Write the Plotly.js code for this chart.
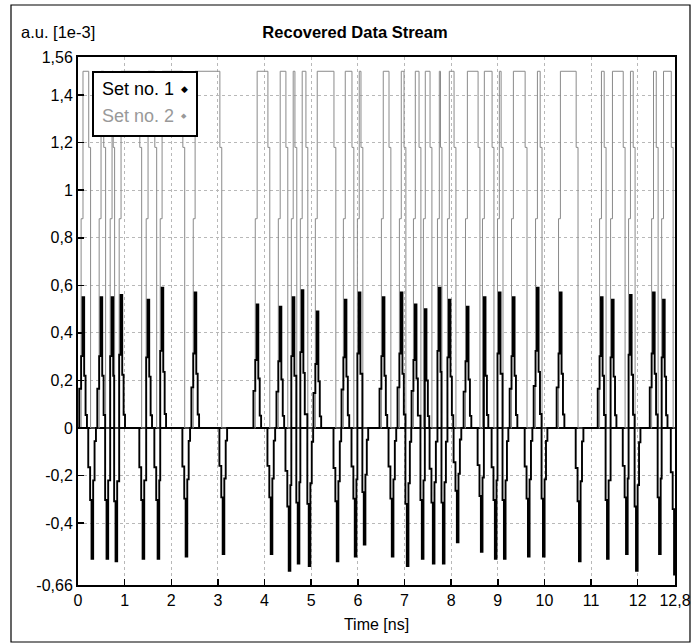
<!DOCTYPE html>
<html>
<head>
<meta charset="utf-8">
<script src="https://cdn.plot.ly/plotly-3.0.1.min.js"></script>
<style>
  html, body { margin: 0; padding: 0; background: #fff; }
  #chart { width: 694px; height: 643px; }
</style>
</head>
<body>
<div id="chart"></div>
<script>
// ---- data (time in ns, amplitude in a.u. x1e-3) ----
const pulseStart = [0.107, 0.494, 0.730, 0.923, 1.502, 1.803, 2.511, 3.841, 4.335, 4.614, 4.807, 5.129, 5.730, 6.030, 6.545, 6.931, 7.232, 7.446, 7.747, 7.961, 8.348, 8.712, 9.034, 9.335, 9.850, 10.343, 11.223, 11.459, 11.845, 12.339, 12.554];
const pulseEnd   = [0.300, 0.622, 0.815, 1.395, 1.717, 2.318, 3.112, 4.142, 4.528, 4.721, 4.957, 5.558, 5.944, 6.137, 6.738, 7.060, 7.382, 7.618, 7.833, 8.133, 8.648, 8.948, 9.142, 9.657, 9.979, 10.751, 11.352, 11.760, 11.974, 12.468, 12.790];
const risePeak   = [0.55, 0.55, 0.55, 0.56, 0.54, 0.59, 0.57, 0.52, 0.51, 0.55, 0.58, 0.49, 0.54, 0.57, 0.55, 0.57, 0.52, 0.50, 0.59, 0.54, 0.51, 0.55, 0.57, 0.55, 0.59, 0.57, 0.55, 0.54, 0.56, 0.57, 0.54];
const fallPeak   = [-0.55, -0.55, -0.56, -0.55, -0.55, -0.54, -0.53, -0.53, -0.60, -0.57, -0.58, -0.56, -0.54, -0.49, -0.54, -0.58, -0.55, -0.57, -0.57, -0.48, -0.52, -0.55, -0.55, -0.54, -0.54, -0.56, -0.55, -0.53, -0.60, -0.53, -0.62];
const highLevel  = 1.50;   // Set no. 2 top level
const stepRise   = 0.88;   // intermediate stair level on rising edges
const stepFall   = 1.18;   // intermediate stair level on falling edges
const lowLevel   = 0.0;

const xTickVals = [0,1,2,3,4,5,6,7,8,9,10,11,12,12.8];
const xTickText = ["0","1","2","3","4","5","6","7","8","9","10","11","12","12,8"];
const yTickVals = [-0.66,-0.4,-0.2,0,0.2,0.4,0.6,0.8,1,1.2,1.4,1.56];
const yTickText = ["-0,66","-0,4","-0,2","0","0,2","0,4","0,6","0,8","1","1,2","1,4","1,56"];

// stair-shape of each black edge response (style of the simulated stream)
const OFF = [-0.08, -0.04, -0.01, 0.025, 0.055, 0.085];
const FR  = [0.3, 0.55, 1.0, 0.4, 0.1, 0.0];

// ---- Set no. 2 (gray data stream) ----
const gx = [0], gy = [lowLevel];
for (let i = 0; i < pulseStart.length; i++) {
  const r = pulseStart[i], f = pulseEnd[i];
  const x2 = Math.max(f - 0.07, r + 0.025);
  const x3 = Math.max(f - 0.03, x2 + 0.02);
  gx.push(r - 0.04, r, x2, x3);
  gy.push(stepRise, highLevel, stepFall, lowLevel);
}
gx.push(12.8); gy.push(lowLevel);

// ---- Set no. 1 (black edge signal) ----
const edges = [];
for (let i = 0; i < pulseStart.length; i++) {
  edges.push({t: pulseStart[i], p: risePeak[i]});
  edges.push({t: pulseEnd[i], p: fallPeak[i]});
}
const bx = [0], by = [0];
edges.forEach((e, k) => {
  const lo = k > 0 ? (edges[k-1].t + e.t) / 2 : -Infinity;
  const hi = k < edges.length - 1 ? (e.t + edges[k+1].t) / 2 : Infinity;
  OFF.forEach((o, j) => {
    const t = e.t + o;
    if (t >= lo && t < hi && t >= 0 && t <= 12.8) { bx.push(t); by.push(e.p * FR[j]); }
  });
});

const FONT = "'Liberation Sans', Arial, sans-serif";

const traces = [
  {x: gx, y: gy, type: 'scatter', mode: 'lines', name: 'Set no. 2',
   line: {color: '#8a8a8a', width: 1, shape: 'hv'}, hoverinfo: 'skip'},
  {x: bx, y: by, type: 'scatter', mode: 'lines', name: 'Set no. 1',
   line: {color: '#000000', width: 1.9, shape: 'hv'}, hoverinfo: 'skip'}
];

const L = 78, R = 675, T = 57, B = 585, W = 694, H = 643;
const px = v => (v - L) / (R - L);
const py = v => (B - v) / (B - T);

const layout = {
  width: W, height: H,
  margin: {l: L, r: W - R, t: T, b: H - B, pad: 0},
  paper_bgcolor: '#ffffff', plot_bgcolor: '#ffffff',
  font: {family: FONT, size: 16, color: '#000'},
  showlegend: false,
  title: {text: '<b>Recovered Data Stream</b>', x: 355 / W, xref: 'container', xanchor: 'center',
          y: 1 - 32 / H, yref: 'container', yanchor: 'middle', font: {family: FONT, size: 16.5, color: '#000'}},
  xaxis: {range: [0, 12.8], tickmode: 'array', tickvals: xTickVals, ticktext: xTickText,
          ticks: 'inside', ticklen: 6, tickwidth: 1.5, tickcolor: '#000',
          showline: true, linecolor: '#000', linewidth: 2, mirror: true,
          showgrid: true, gridcolor: '#b8b8b8', griddash: 'dot', gridwidth: 1, zeroline: false,
          tickfont: {family: FONT, size: 16, color: '#000'},
          title: {text: 'Time [ns]', standoff: 11, font: {family: FONT, size: 16, color: '#000'}}},
  yaxis: {range: [-0.66, 1.56], tickmode: 'array', tickvals: yTickVals, ticktext: yTickText,
          ticks: 'inside', ticklen: 6, tickwidth: 1.5, tickcolor: '#000',
          showline: true, linecolor: '#000', linewidth: 2, mirror: true,
          showgrid: true, gridcolor: '#b8b8b8', griddash: 'dot', gridwidth: 1,
          zeroline: true, zerolinecolor: '#000', zerolinewidth: 2,
          tickfont: {family: FONT, size: 16, color: '#000'}},
  shapes: [
    {type: 'rect', xref: 'paper', yref: 'paper', x0: px(11), x1: px(690), y0: py(642), y1: py(5),
     line: {color: '#000', width: 1.2}, fillcolor: 'rgba(0,0,0,0)', layer: 'below'},
    {type: 'rect', xref: 'paper', yref: 'paper', x0: px(93), x1: px(197), y0: py(136), y1: py(72),
     line: {color: '#000', width: 2}, fillcolor: '#ffffff', layer: 'above'}
  ],
  annotations: [
    {text: 'a.u. [1e-3]', xref: 'paper', yref: 'paper', x: px(19), y: py(32), xanchor: 'left', yanchor: 'middle',
     showarrow: false, font: {family: FONT, size: 16.5, color: '#000'}},
    {text: 'Set no. 1', xref: 'paper', yref: 'paper', x: px(100), y: py(89), xanchor: 'left', yanchor: 'middle',
     showarrow: false, font: {family: FONT, size: 18, color: '#000'}},
    {text: '◆', xref: 'paper', yref: 'paper', x: px(184), y: py(89), xanchor: 'center', yanchor: 'middle',
     showarrow: false, font: {family: 'DejaVu Sans', size: 9, color: '#000'}},
    {text: 'Set no. 2', xref: 'paper', yref: 'paper', x: px(100), y: py(116), xanchor: 'left', yanchor: 'middle',
     showarrow: false, font: {family: FONT, size: 18, color: '#999999'}},
    {text: '◆', xref: 'paper', yref: 'paper', x: px(184), y: py(116), xanchor: 'center', yanchor: 'middle',
     showarrow: false, font: {family: 'DejaVu Sans', size: 7, color: '#999999'}}
  ]
};

Plotly.newPlot('chart', traces, layout, {staticPlot: true, displayModeBar: false});
</script>
</body>
</html>
